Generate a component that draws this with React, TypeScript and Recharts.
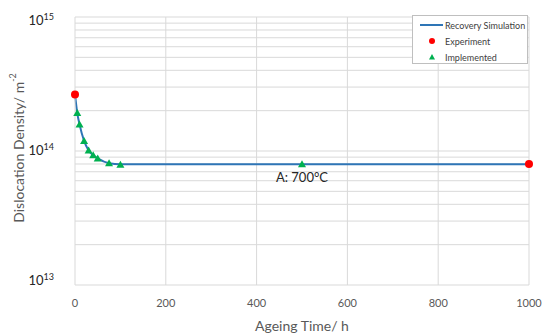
// Dislocation density recovery at 700°C: simulated curve vs experiment on a log axis.
import {
  ComposedChart,
  Line,
  Scatter,
  XAxis,
  YAxis,
  CartesianGrid,
  Legend,
  ReferenceDot,
  ReferenceLine,
} from 'recharts';

const FONT = 'Lato, "Open Sans", sans-serif';
const BLUE = '#2e75b6';
const RED = '#ff0000';
const GREEN = '#00b050';
const GRID = '#d9d9d9';
const TEXT = '#595959';

// Recovery simulation (h, m^-2)
const SIM_T = [0, 5, 10, 20, 30, 40, 50, 75, 100, 200, 300, 400, 500, 600, 700, 800, 900, 1000];
const SIM_RHO = [
  2.64e14, 1.92e14, 1.58e14, 1.19e14, 1.01e14, 9.3e13, 8.8e13, 8.1e13, 7.95e13,
  7.95e13, 7.95e13, 7.95e13, 7.95e13, 7.95e13, 7.95e13, 7.95e13, 7.95e13, 7.95e13,
];

// Experiment
const EXP_T = [0, 1000];
const EXP_RHO = [2.64e14, 8.0e13];

// Implemented points
const IMP_T = [5, 10, 20, 30, 40, 50, 75, 100, 500];
const IMP_RHO = [1.92e14, 1.58e14, 1.19e14, 1.01e14, 9.3e13, 8.8e13, 8.1e13, 7.9e13, 7.95e13];

const X_TICKS = [0, 200, 400, 600, 800, 1000];
const X_GRID = [200, 400, 600, 800, 1000];
const Y_TICKS = [1e13, 1e14, 1e15];
const Y_GRID = [
  2e13, 3e13, 4e13, 5e13, 6e13, 7e13, 8e13, 9e13,
  1e14, 2e14, 3e14, 4e14, 5e14, 6e14, 7e14, 8e14, 9e14, 1e15,
];

const SERIES_NAMES = ['Recovery Simulation', 'Experiment', 'Implemented'];

const simData = SIM_T.map((t, i) => ({ t, rho: SIM_RHO[i] }));
const expData = EXP_T.map((t, i) => ({ t, rho: EXP_RHO[i] }));
const impData = IMP_T.map((t, i) => ({ t, rho: IMP_RHO[i] }));

const Triangle = (props: any) => {
  const { cx, cy } = props;
  if (cx == null || cy == null) return null;
  return <polygon points={`${cx},${cy - 4} ${cx - 4},${cy + 3} ${cx + 4},${cy + 3}`} fill={GREEN} />;
};

const Dot = (props: any) => {
  const { cx, cy } = props;
  if (cx == null || cy == null) return null;
  return <circle cx={cx} cy={cy} r={4} fill={RED} />;
};

const PowerTick = (props: any) => {
  const { x, y, payload, index } = props;
  const exp = Math.round(Math.log10(payload.value));
  // labels sit slightly inward at the ends, as in the original
  const shift = index === 0 ? -4 : index === Y_TICKS.length - 1 ? 4 : 0;
  return (
    <text x={x - 13} y={y + shift} dy={4} textAnchor="end" fill="#262626" fontFamily={FONT}>
      <tspan fontSize={13}>10</tspan>
      <tspan fontSize={9} dy={-5}>{exp}</tspan>
    </text>
  );
};

const YTitle = (props: any) => {
  const { viewBox } = props;
  const cx = 18;
  const cy = viewBox.y + viewBox.height / 2 - 3;
  return (
    <text
      x={cx}
      y={cy}
      transform={`rotate(-90, ${cx}, ${cy})`}
      textAnchor="middle"
      dominantBaseline="central"
      fill={TEXT}
      fontFamily={FONT}
      fontSize={14}
    >
      Dislocation Density/ m<tspan fontSize={9} dy={-6}>-2</tspan>
    </text>
  );
};

const LegendBox = () => (
  <div
    style={{
      width: 114,
      height: 47,
      border: '1px solid #bfbfbf',
      background: '#fff',
      fontFamily: FONT,
      fontSize: 9,
      color: '#404040',
      boxSizing: 'content-box',
    }}
  >
    {SERIES_NAMES.map((name, i) => (
      <div key={name} style={{ height: 16, display: 'flex', alignItems: 'center', marginTop: i === 0 ? 1 : 0 }}>
        <svg width={32} height={12} style={{ flex: 'none' }}>
          {i === 0 && <line x1={7} x2={30} y1={6} y2={6} stroke={BLUE} strokeWidth={2} />}
          {i === 1 && <circle cx={19} cy={6} r={3} fill={RED} />}
          {i === 2 && <polygon points="19,3 16,8.5 22,8.5" fill={GREEN} />}
        </svg>
        <span style={{ whiteSpace: 'nowrap' }}>{name}</span>
      </div>
    ))}
  </div>
);

export default function App() {
  return (
    <div style={{ position: 'absolute', left: 0, top: 0, width: 550, height: 334, background: '#fff' }}>
      <ComposedChart
        width={550}
        height={334}
        data={simData}
        margin={{ top: 17, right: 21, bottom: 0, left: 0 }}
      >
        <CartesianGrid stroke={GRID} horizontal={false} verticalValues={X_GRID} />
        {Y_GRID.map((v) => (
          <ReferenceLine key={v} y={v} stroke={GRID} strokeWidth={1} />
        ))}
        <XAxis
          type="number"
          dataKey="t"
          domain={[0, 1000]}
          ticks={X_TICKS}
          height={49}
          axisLine={{ stroke: GRID }}
          tickLine={false}
          tick={{ fill: TEXT, fontFamily: FONT, fontSize: 11 }}
          tickMargin={8}
          label={{
            value: 'Ageing Time/ h',
            position: 'insideBottom',
            offset: 3,
            fill: TEXT,
            fontFamily: FONT,
            fontSize: 14,
          }}
        />
        <YAxis
          type="number"
          dataKey="rho"
          scale="log"
          domain={[1e13, 1e15]}
          allowDataOverflow
          ticks={Y_TICKS}
          width={75}
          axisLine={{ stroke: GRID }}
          tickLine={false}
          tick={<PowerTick />}
          label={{ content: <YTitle /> }}
        />
        <Legend
          layout="vertical"
          align="center"
          verticalAlign="middle"
          wrapperStyle={{ left: 412, top: 15, width: 'auto' }}
          content={() => <LegendBox />}
        />
        <Line
          type="monotone"
          dataKey="rho"
          stroke={BLUE}
          strokeWidth={2}
          dot={false}
          name="Recovery Simulation"
          isAnimationActive={false}
        />
        <Scatter data={expData} dataKey="rho" name="Experiment" shape={<Dot />} isAnimationActive={false} />
        <Scatter data={impData} dataKey="rho" name="Implemented" shape={<Triangle />} isAnimationActive={false} />
        <ReferenceDot
          x={500}
          y={7.95e13}
          r={0}
          stroke="none"
          label={{
            value: 'A: 700°C',
            position: 'bottom',
            offset: 8,
            fill: '#262626',
            fontFamily: FONT,
            fontSize: 13,
          }}
        />
      </ComposedChart>
    </div>
  );
}
